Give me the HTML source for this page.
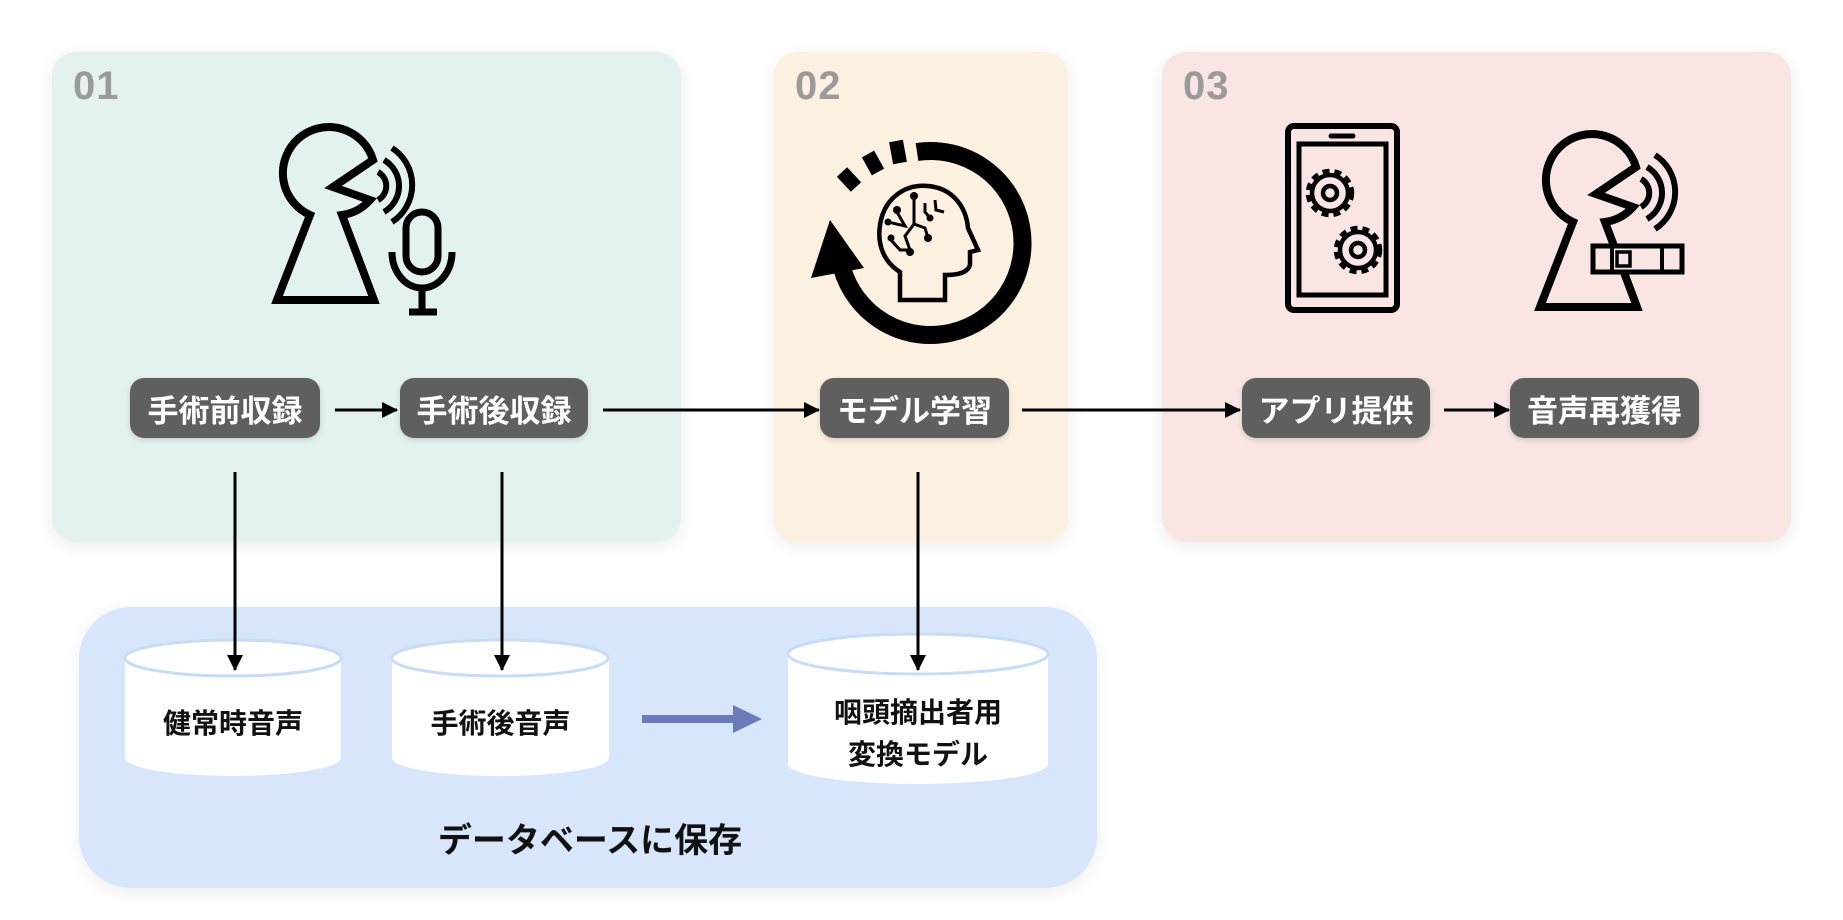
<!DOCTYPE html>
<html><head><meta charset="utf-8"><style>
body{margin:0;width:1843px;height:920px;background:#fff;position:relative;overflow:hidden;font-family:"Liberation Sans","Noto Sans CJK JP",sans-serif}
.panel{position:absolute;border-radius:24px;box-shadow:0 4px 18px rgba(0,0,0,0.08)}
.num{position:absolute;font-size:40px;color:#9a9a9a;font-weight:bold;letter-spacing:1px}
.pill{position:absolute;background:#5f5f5f;color:#fff;border-radius:14px;font-weight:bold;font-size:31px;display:flex;align-items:center;justify-content:center;height:60px;top:378px;box-shadow:0 2px 6px rgba(0,0,0,0.15)}
.cyl{position:absolute;color:#111;font-weight:bold;font-size:28px;text-align:center;line-height:42px}
svg{position:absolute;left:0;top:0}
</style></head><body>
<div class="panel" style="left:52px;top:52px;width:629px;height:490px;background:#e4f2ef"></div>
<div class="panel" style="left:774px;top:52px;width:294px;height:490px;background:#fcf1e0"></div>
<div class="panel" style="left:1162px;top:52px;width:629px;height:490px;background:#f9e6e4"></div>
<div class="panel" style="left:79px;top:607px;width:1018px;height:281px;background:#d7e6fb;border-radius:52px"></div>
<div class="num" style="left:73px;top:64px">01</div>
<div class="num" style="left:795px;top:64px">02</div>
<div class="num" style="left:1183px;top:64px">03</div>

<svg width="1843" height="920" viewBox="0 0 1843 920">
<defs>
<marker id="ah2" markerWidth="16" markerHeight="16" refX="15" refY="8" orient="auto" markerUnits="userSpaceOnUse"><path d="M0,0 L16,8 L0,16 z" fill="#000"/></marker>
<g id="head">
<path d="M342,215 L374,300 L277,300 L310,215 A46,46 0 1 1 373,160 L333,187 L370,200 A46,46 0 0 1 342,215 Z" fill="none" stroke="#000" stroke-width="8" stroke-linejoin="miter"/>
<path d="M378,172 A16,16 0 0 1 378,200" fill="none" stroke="#000" stroke-width="6"/>
<path d="M384,160 A30,30 0 0 1 384,212" fill="none" stroke="#000" stroke-width="6"/>
<path d="M392,148 A44,44 0 0 1 392,222" fill="none" stroke="#000" stroke-width="6"/>
</g>
</defs>
<use href="#head"/>
<rect x="406" y="212" width="32" height="60" rx="16" fill="none" stroke="#000" stroke-width="7"/>
<path d="M392,252 A30,36 0 0 0 452,252" fill="none" stroke="#000" stroke-width="7"/>
<line x1="422" y1="288" x2="422" y2="312" stroke="#000" stroke-width="7"/>
<line x1="409" y1="312" x2="437" y2="312" stroke="#000" stroke-width="7"/>
<path d="M917,152 A92,92 0 1 1 842,268" fill="none" stroke="#000" stroke-width="18"/>
<polygon points="830,220 811,278 864,268" fill="#000"/>
<g stroke="#000" stroke-width="14">
<line x1="896" y1="141" x2="900" y2="163"/>
<line x1="868" y1="154" x2="878" y2="172"/>
<line x1="842" y1="172" x2="856" y2="187"/>
</g>
<path d="M900,300 L900,272 C884,262 877,245 880,225 C884,198 905,184 928,186 C952,188 966,206 968,228 L978,250 L970,252 L970,265 C968,272 960,275 945,275 L945,300 Z" fill="none" stroke="#000" stroke-width="4.5"/>
<g stroke="#000" stroke-width="3" fill="none">
<path d="M914,196 L914,224 L905,236 L910,250"/><path d="M897,212 L905,226 L888,222"/><path d="M914,224 L925,228 L928,238"/><path d="M925,203 L925,212 L930,218"/><path d="M935,200 L936,210 L944,212"/><path d="M891,240 L900,250 L910,250"/>
</g>
<g fill="#000"><circle cx="914" cy="196" r="4"/><circle cx="897" cy="210" r="4"/><circle cx="888" cy="222" r="3.5"/><circle cx="910" cy="252" r="4"/><circle cx="928" cy="238" r="4"/><circle cx="891" cy="238" r="3.5"/><circle cx="930" cy="218" r="3.5"/></g>
<rect x="1288" y="126" width="109" height="184" rx="6" fill="none" stroke="#000" stroke-width="6"/>
<rect x="1299" y="144" width="87" height="151" fill="none" stroke="#000" stroke-width="5"/>
<line x1="1331" y1="136" x2="1353" y2="136" stroke="#000" stroke-width="5" stroke-linecap="round"/>
<g fill="none" stroke="#000" stroke-width="4.5">
<circle cx="1330" cy="193" r="22" stroke-dasharray="7 5"/><circle cx="1330" cy="193" r="18"/><circle cx="1330" cy="193" r="7"/>
<circle cx="1358" cy="250" r="22" stroke-dasharray="7 5"/><circle cx="1358" cy="250" r="18"/><circle cx="1358" cy="250" r="7"/>
</g>
<use href="#head" transform="translate(1263,7)"/>
<rect x="1593" y="246" width="89" height="26" fill="#f9e6e4" stroke="#000" stroke-width="5"/>
<line x1="1612" y1="246" x2="1612" y2="272" stroke="#000" stroke-width="4"/>
<line x1="1662" y1="246" x2="1662" y2="272" stroke="#000" stroke-width="4"/>
<rect x="1617" y="252" width="13" height="14" fill="none" stroke="#000" stroke-width="3.5"/>
<g stroke="#000" stroke-width="3">
<line x1="335" y1="410" x2="397" y2="410" marker-end="url(#ah2)"/>
<line x1="603" y1="410" x2="819" y2="410" marker-end="url(#ah2)"/>
<line x1="1022" y1="410" x2="1240" y2="410" marker-end="url(#ah2)"/>
<line x1="1444" y1="410" x2="1509" y2="410" marker-end="url(#ah2)"/>
</g>
<g fill="#fff" stroke="#c8dcf7" stroke-width="3">
<path d="M125,658 L125,758 A108,18 0 0 0 341,758 L341,658" stroke="none"/>
<ellipse cx="233" cy="658" rx="108" ry="18"/>
<path d="M392,658 L392,758 A108,18 0 0 0 609,758 L609,658" stroke="none"/>
<ellipse cx="500" cy="658" rx="108" ry="18"/>
<path d="M788,654 L788,764 A130,20 0 0 0 1048,764 L1048,654" stroke="none"/>
<ellipse cx="918" cy="654" rx="130" ry="20"/>
</g>
<g stroke="#000" stroke-width="3">
<line x1="235" y1="472" x2="235" y2="670" marker-end="url(#ah2)"/>
<line x1="502" y1="472" x2="502" y2="670" marker-end="url(#ah2)"/>
<line x1="918" y1="472" x2="918" y2="670" marker-end="url(#ah2)"/>
</g>
<line x1="642" y1="719" x2="740" y2="719" stroke="#6b7ab8" stroke-width="8"/>
<polygon points="733,705 762,719 733,733" fill="#6b7ab8"/>
</svg>

<div class="pill" style="left:130px;width:190px">手術前収録</div>
<div class="pill" style="left:400px;width:188px">手術後収録</div>
<div class="pill" style="left:820px;width:189px">モデル学習</div>
<div class="pill" style="left:1242px;width:188px">アプリ提供</div>
<div class="pill" style="left:1510px;width:189px">音声再獲得</div>

<div class="cyl" style="left:125px;width:216px;top:703px">健常時音声</div>
<div class="cyl" style="left:392px;width:217px;top:703px">手術後音声</div>
<div class="cyl" style="left:788px;width:260px;top:692px">咽頭摘出者用<br>変換モデル</div>
<div style="position:absolute;left:380px;width:420px;top:813px;text-align:center;font-size:34px;font-weight:bold;color:#111">データベースに保存</div>
</body></html>
